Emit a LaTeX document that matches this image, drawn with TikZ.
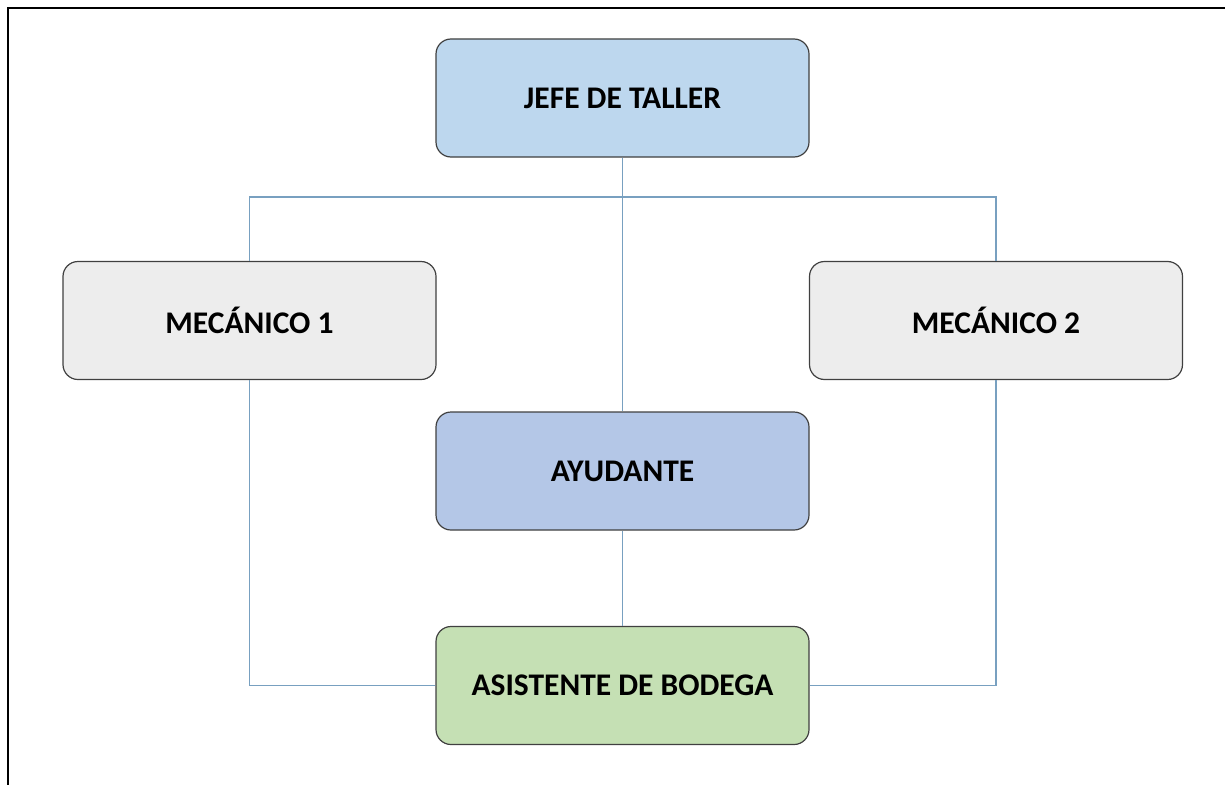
\documentclass[tikz,border=0pt]{standalone}
\usepackage{fontspec}
\setmainfont{Carlito}
\begin{document}
\begin{tikzpicture}[x=1pt,y=-1pt,
  box/.style={draw=black!75, line width=1.2pt, rounded corners=15pt, minimum width=373pt, minimum height=118pt, inner sep=0pt, font=\fontsize{31.5}{36}\selectfont\bfseries, text=black},
  conn/.style={draw=lineblue, line width=1.4pt}]
\definecolor{lineblue}{RGB}{120,160,192}
\definecolor{jefec}{RGB}{189,215,238}
\definecolor{mecc}{RGB}{237,237,237}
\definecolor{ayuc}{RGB}{180,199,231}
\definecolor{asic}{RGB}{197,224,180}
\useasboundingbox (0,0) rectangle (1225,784);
\draw[line width=2pt, black] (8,790) -- (8,8) -- (1230,8);
\node[box, fill=jefec] (jefe) at (622.5,98) {JEFE DE TALLER};
\node[box, fill=mecc] (mec1) at (249.5,320.5) {MECÁNICO 1};
\node[box, fill=mecc] (mec2) at (996,320.5) {MECÁNICO 2};
\node[box, fill=ayuc] (ayu) at (622.5,471) {AYUDANTE};
\node[box, fill=asic] (asi) at (622.5,685.5) {ASISTENTE DE BODEGA};
\coordinate (bar) at (622.5,197);
\draw[conn] (jefe.south) -- (ayu.north);
\draw[conn] (mec1.north) |- (bar) -| (mec2.north);
\draw[conn] (mec1.south) |- (asi.west);
\draw[conn] (mec2.south) |- (asi.east);
\draw[conn] (ayu.south) -- (asi.north);
\end{tikzpicture}
\end{document}
